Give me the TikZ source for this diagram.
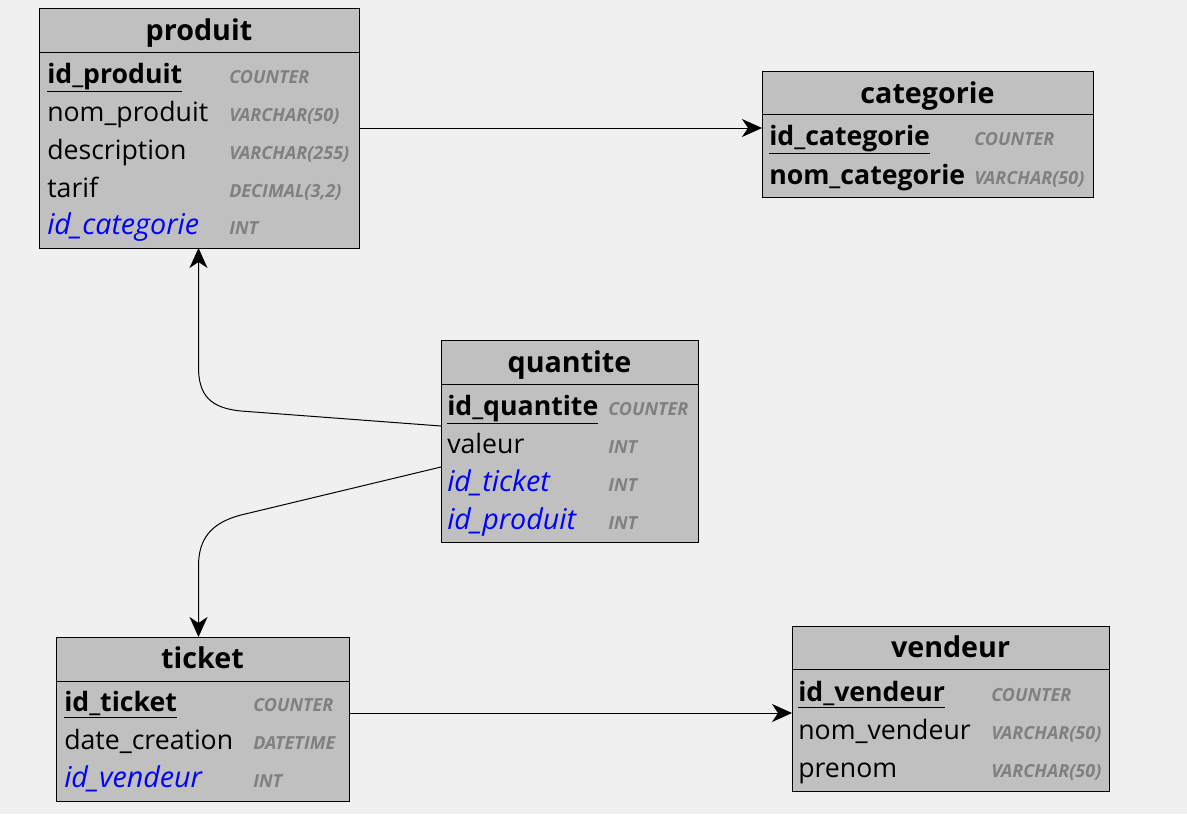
\documentclass[tikz,border=0pt]{standalone}
\usepackage{fontspec}
\setmainfont{Open Sans}
\usetikzlibrary{arrows.meta,positioning,fit}
\definecolor{bgcol}{HTML}{F0F0F0}
\definecolor{tblgray}{HTML}{C0C0C0}
\definecolor{typgray}{HTML}{808080}
\definecolor{fkblue}{HTML}{0000FF}
\tikzset{
  tbl/.style={draw,fill=tblgray,inner sep=0pt,line width=0.75pt},
  hdr/.style={draw,fill=tblgray,inner sep=0pt,line width=0.75pt},
  ttl/.style={font=\fontsize{21.5}{24}\selectfont\bfseries,inner sep=0pt,anchor=base},
  fld/.style={font=\fontsize{20}{22}\selectfont,inner sep=0pt,anchor=base west},
  pk/.style={fld,font=\fontsize{20}{22}\selectfont\bfseries},
  fk/.style={fld,font=\fontsize{21.5}{23}\selectfont\itshape,text=fkblue},
  typ/.style={font=\fontsize{13.5}{15}\selectfont\bfseries\itshape,text=typgray,inner sep=0pt,anchor=base west},
  arr/.style={-{Stealth[length=15pt,width=13.5pt,inset=4.5pt]},line width=0.75pt}
}

\begin{document}
\begin{tikzpicture}[x=0.75pt,y=-0.75pt]
  \fill[bgcol] (0,0) rectangle (1187,814);
  \useasboundingbox (0,0) rectangle (1187,814);

  % produit
  \node[tbl, fit={(39,8) (359,248)}] (produit) {};
  \node[hdr, fit={(39,8) (359,52)}] (produit-h) {};
  \node[ttl] (produit-n) at (199,40) {produit};
  \node[pk] (produit-f1) at (47,83) {\underline{id\_produit}};
  \node[fld] (produit-f2) at (47,121) {nom\_produit};
  \node[fld] (produit-f3) at (47,159) {description};
  \node[fld] (produit-f4) at (47,197) {tarif};
  \node[fk] (produit-f5) at (47,234) {id\_categorie};
  \node[typ] (produit-t1) at (229,83) {COUNTER};
  \node[typ] (produit-t2) at (229,121) {VARCHAR(50)};
  \node[typ] (produit-t3) at (229,159) {VARCHAR(255)};
  \node[typ] (produit-t4) at (229,197) {DECIMAL(3,2)};
  \node[typ] (produit-t5) at (229,234) {INT};

  % categorie
  \node[tbl, fit={(762,71) (1093,197)}] (categorie) {};
  \node[hdr, fit={(762,71) (1093,114)}] (categorie-h) {};
  \node[ttl] (categorie-n) at (927.5,103) {categorie};
  \node[pk] (categorie-f1) at (769,145) {\underline{id\_categorie}};
  \node[pk] (categorie-f2) at (769,184) {nom\_categorie};
  \node[typ] (categorie-t1) at (974,145) {COUNTER};
  \node[typ] (categorie-t2) at (974,184) {VARCHAR(50)};

  % quantite
  \node[tbl, fit={(441,340) (698,542)}] (quantite) {};
  \node[hdr, fit={(441,340) (698,384)}] (quantite-h) {};
  \node[ttl] (quantite-n) at (569.5,372) {quantite};
  \node[pk] (quantite-f1) at (447,415) {\underline{id\_quantite}};
  \node[fld] (quantite-f2) at (447,453) {valeur};
  \node[fk] (quantite-f3) at (447,491) {id\_ticket};
  \node[fk] (quantite-f4) at (447,529) {id\_produit};
  \node[typ] (quantite-t1) at (608,415) {COUNTER};
  \node[typ] (quantite-t2) at (608,453) {INT};
  \node[typ] (quantite-t3) at (608,491) {INT};
  \node[typ] (quantite-t4) at (608,529) {INT};

  % ticket
  \node[tbl, fit={(56,637) (349,801)}] (ticket) {};
  \node[hdr, fit={(56,637) (349,681)}] (ticket-h) {};
  \node[ttl] (ticket-n) at (202.5,668) {ticket};
  \node[pk] (ticket-f1) at (64,711) {\underline{id\_ticket}};
  \node[fld] (ticket-f2) at (64,749) {date\_creation};
  \node[fk] (ticket-f3) at (64,787) {id\_vendeur};
  \node[typ] (ticket-t1) at (253,711) {COUNTER};
  \node[typ] (ticket-t2) at (253,749) {DATETIME};
  \node[typ] (ticket-t3) at (253,787) {INT};

  % vendeur
  \node[tbl, fit={(792,626) (1109,791)}] (vendeur) {};
  \node[hdr, fit={(792,626) (1109,669)}] (vendeur-h) {};
  \node[ttl] (vendeur-n) at (950.5,657) {vendeur};
  \node[pk] (vendeur-f1) at (798,701) {\underline{id\_vendeur}};
  \node[fld] (vendeur-f2) at (798,739) {nom\_vendeur};
  \node[fld] (vendeur-f3) at (798,777) {prenom};
  \node[typ] (vendeur-t1) at (991,701) {COUNTER};
  \node[typ] (vendeur-t2) at (991,739) {VARCHAR(50)};
  \node[typ] (vendeur-t3) at (991,777) {VARCHAR(50)};

  % liens
  \coordinate (p-out) at (359,128);
  \coordinate (c-in) at (762,128);
  \coordinate (t-out) at (349,713);
  \coordinate (v-in) at (792,713);
  \coordinate (q-prod) at (441,426);
  \coordinate (q-tick) at (441,467);
  \coordinate (p-in) at (198.5,248);
  \coordinate (t-in) at (198.5,637);

  \draw[arr] (p-out) -- (c-in);
  \draw[arr] (t-out) -- (v-in);
  \draw[arr] (q-prod) -- (241,411) .. controls (210,408) and (198.5,395) .. (198.5,367) -- (p-in);
  \draw[arr] (q-tick) -- (241,515) .. controls (210,523) and (198.5,540) .. (198.5,566) -- (t-in);
\end{tikzpicture}
\end{document}
